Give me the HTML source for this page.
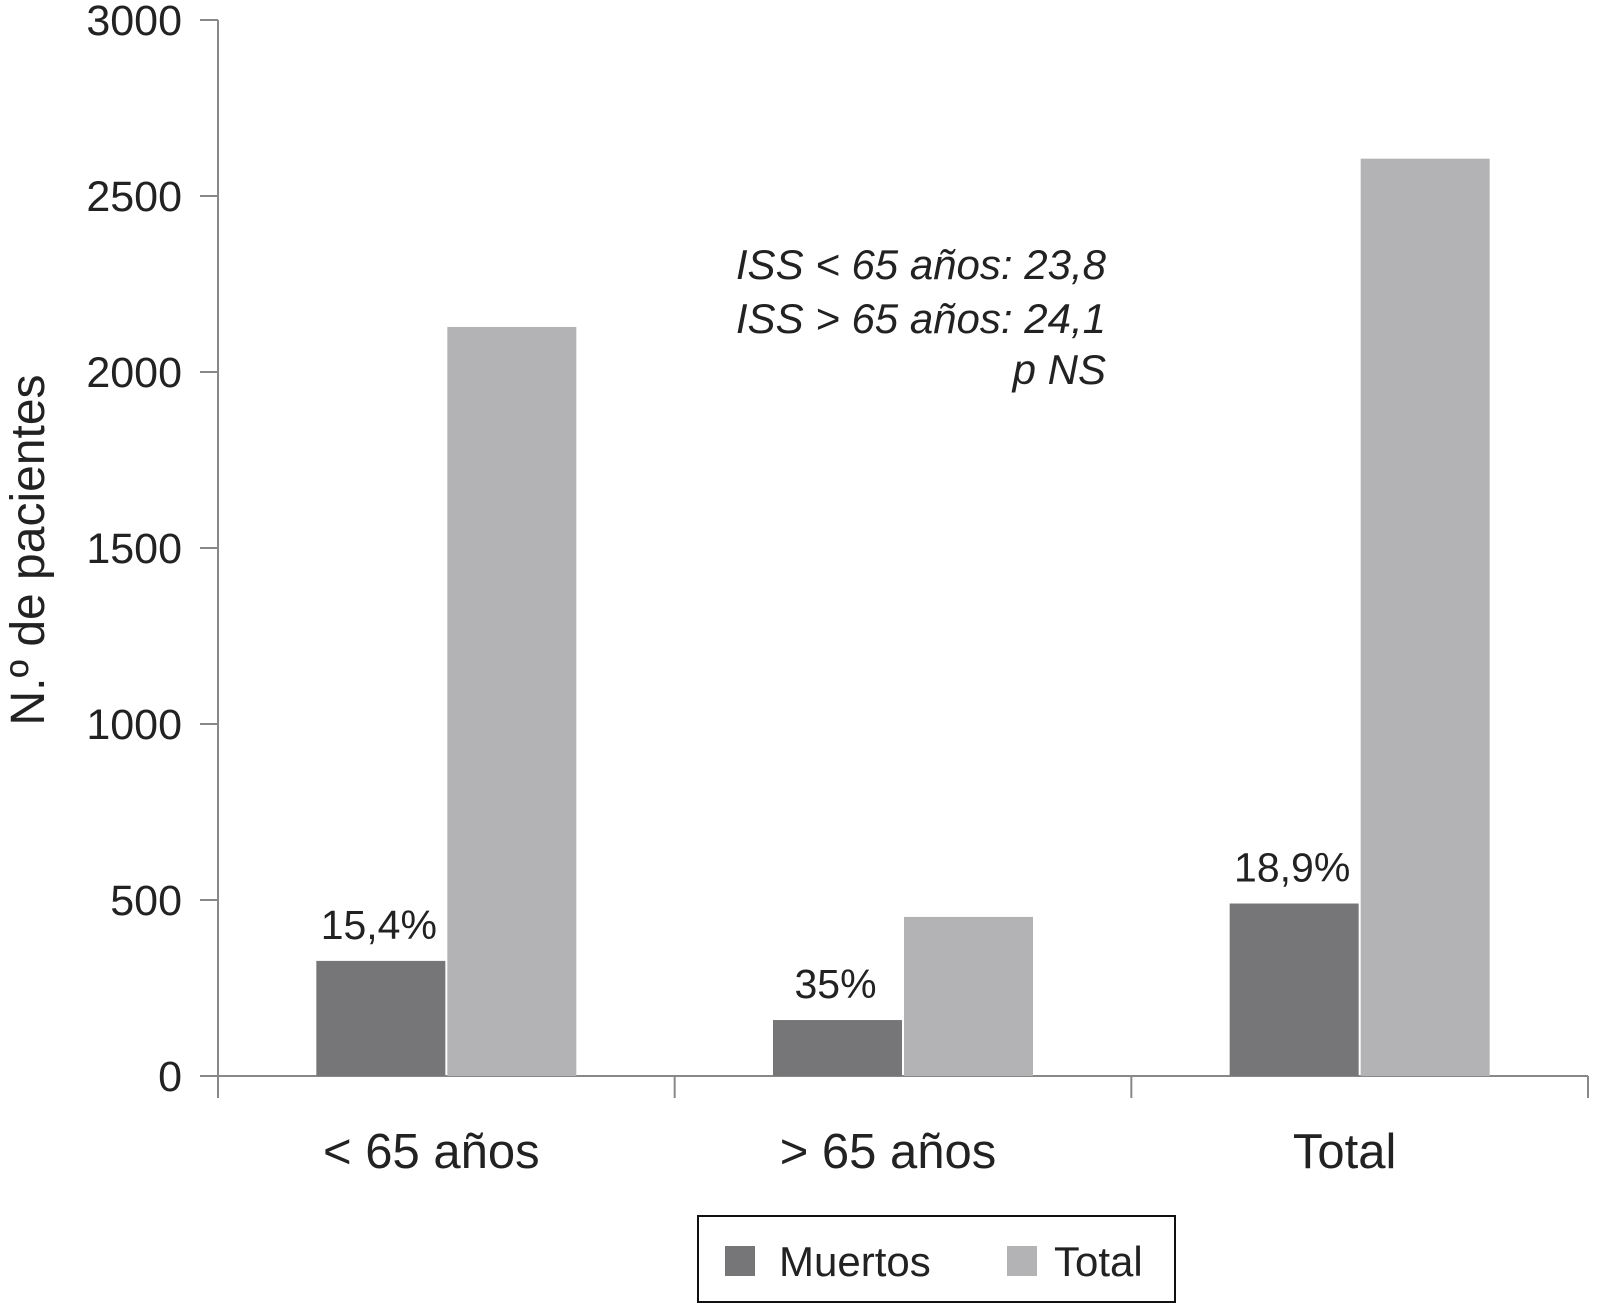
<!DOCTYPE html>
<html><head><meta charset="utf-8"><style>body{margin:0;background:#fff}svg{display:block;font-family:"Liberation Sans",sans-serif}</style></head>
<body>
<svg id="c" width="1599" height="1303"></svg>
<script>
const categories=["< 65 años","> 65 años","Total"];
const muertos=[327,159,490];
const totals=[2128,452,2606];
const pctLabels=["15,4%","35%","18,9%"];
const yTicks=[0,500,1000,1500,2000,2500,3000];
const NS="http://www.w3.org/2000/svg",svg=document.getElementById('c');
const X0=218,X1=1588,Y0=1076,Y1=20,YMAX=3000;
const y=v=>Y0-(v/YMAX)*(Y0-Y1);
const cw=(X1-X0)/categories.length;
const cx=i=>X0+cw*(i+0.5);
function el(t,a,txt){const e=document.createElementNS(NS,t);for(const k in a)e.setAttribute(k,a[k]);if(txt!=null)e.textContent=txt;svg.appendChild(e);return e;}
let e;
e=el('line',{x1:X0,y1:Y1,x2:X0,y2:Y0+22,stroke:'#888','stroke-width':2});


e=el('line',{x1:X0,y1:Y0,x2:X1,y2:Y0,stroke:'#888','stroke-width':2});


yTicks.forEach(t=>{
 e=el('line',{x1:X0-18,y1:y(t),x2:X0,y2:y(t),stroke:'#888','stroke-width':2});
 
 
 e=el('text',{x:182,y:y(t)+15,'text-anchor':'end','font-size':43,fill:'#222'},t);
 
 
});
for(let i=0;i<=categories.length;i++){
 e=el('line',{x1:X0+cw*i,y1:Y0,x2:X0+cw*i,y2:Y0+22,stroke:'#888','stroke-width':2});
 
 
}
const bw=129;
categories.forEach((c,i)=>{
 const m=cx(i);
 e=el('rect',{x:m-bw-1,y:y(muertos[i]),width:bw,height:Y0-y(muertos[i]),fill:'#767678'});
 
 
 e=el('rect',{x:m+1,y:y(totals[i]),width:bw,height:Y0-y(totals[i]),fill:'#b3b3b6'});
 
 
 e=el('text',{x:m-bw/2-3,y:y(muertos[i])-22,'text-anchor':'middle','font-size':41,fill:'#222'},pctLabels[i]);
 
 
 e=el('text',{x:m-15,y:1168,'text-anchor':'middle','font-size':49,fill:'#222'},c);
 
 
});
e=el('text',{x:0,y:0,transform:'translate(44,550) rotate(-90)','text-anchor':'middle','font-size':48,fill:'#222'},'N.º de pacientes');


[["ISS < 65 años: 23,8",279],["ISS > 65 años: 24,1",333],["p NS",384]].forEach(a=>{
 e=el('text',{x:1106,y:a[1],'text-anchor':'end','font-size':42,'font-style':'italic',fill:'#222'},a[0]);
 
 
});
e=el('rect',{x:698,y:1216,width:477,height:86,fill:'#fff',stroke:'#111','stroke-width':2});


e=el('rect',{x:725,y:1246,width:30,height:30,fill:'#767678'});


e=el('text',{x:779,y:1276,'font-size':42,fill:'#222'},'Muertos');


e=el('rect',{x:1007,y:1246,width:30,height:30,fill:'#b3b3b6'});


e=el('text',{x:1054,y:1276,'font-size':42,fill:'#222'},'Total');


</script>
</body></html>
